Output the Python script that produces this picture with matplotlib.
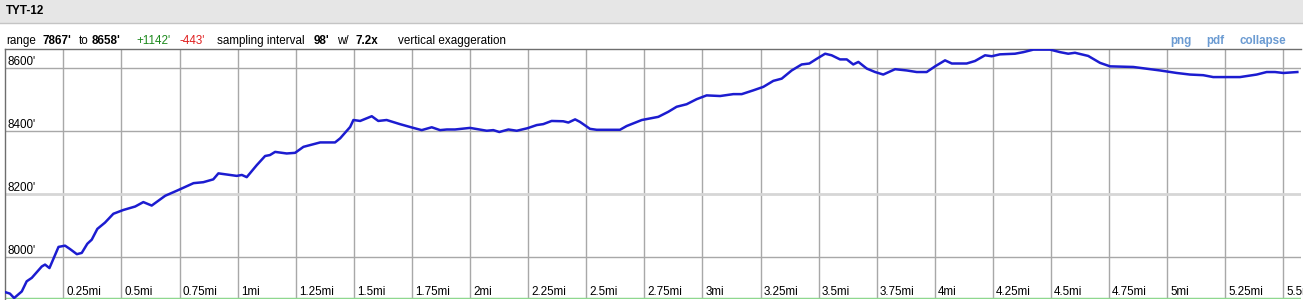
import numpy as np
import matplotlib
matplotlib.use("Agg")
import matplotlib.pyplot as plt
from matplotlib.patches import Rectangle
from matplotlib.lines import Line2D

plt.rcParams['font.family'] = ['Liberation Sans', 'DejaVu Sans']

# profile (miles, feet)
dist_mi = [0.003, 0.02, 0.038, 0.071, 0.092, 0.114, 0.157, 0.171, 0.19, 0.229,
           0.257, 0.279, 0.308, 0.329, 0.353, 0.372, 0.396, 0.429, 0.465, 0.508,
           0.559, 0.594, 0.63, 0.688, 0.738, 0.81, 0.852, 0.895, 0.917, 0.967,
           0.996, 1.018, 1.039, 1.082, 1.118, 1.139, 1.161, 1.211, 1.247, 1.283,
           1.355, 1.419, 1.441, 1.484, 1.498, 1.527, 1.577, 1.605, 1.641, 1.698,
           1.756, 1.792, 1.835, 1.871, 1.9, 1.935, 2.0, 2.072, 2.1, 2.126,
           2.165, 2.201, 2.247, 2.287, 2.315, 2.351, 2.401, 2.423, 2.452, 2.473,
           2.516, 2.545, 2.645, 2.674, 2.739, 2.81, 2.853, 2.889, 2.932, 2.975,
           3.018, 3.076, 3.133, 3.169, 3.219, 3.262, 3.305, 3.341, 3.384, 3.427,
           3.46, 3.492, 3.528, 3.556, 3.592, 3.621, 3.649, 3.671, 3.707, 3.743,
           3.778, 3.829, 3.879, 3.922, 3.965, 4.001, 4.044, 4.073, 4.137, 4.173,
           4.216, 4.245, 4.28, 4.345, 4.381, 4.424, 4.496, 4.539, 4.574, 4.603,
           4.66, 4.711, 4.754, 4.854, 4.969, 5.041, 5.098, 5.155, 5.198, 5.313,
           5.385, 5.428, 5.464, 5.5, 5.56]
elev_ft = [7888, 7884, 7870, 7891, 7923, 7934, 7970, 7976, 7965, 8032,
           8036, 8025, 8009, 8013, 8042, 8055, 8089, 8109, 8137, 8149,
           8160, 8174, 8163, 8194, 8210, 8234, 8237, 8246, 8265, 8260,
           8257, 8260, 8253, 8291, 8320, 8323, 8333, 8328, 8330, 8349,
           8363, 8363, 8376, 8412, 8434, 8431, 8446, 8431, 8434, 8421,
           8409, 8402, 8411, 8402, 8404, 8404, 8409, 8400, 8402, 8396,
           8404, 8400, 8408, 8418, 8421, 8431, 8430, 8426, 8436, 8428,
           8406, 8403, 8403, 8415, 8434, 8444, 8460, 8476, 8484, 8500,
           8512, 8510, 8516, 8516, 8528, 8539, 8558, 8565, 8591, 8610,
           8613, 8628, 8644, 8639, 8626, 8626, 8610, 8618, 8597, 8586,
           8578, 8595, 8591, 8586, 8586, 8604, 8623, 8613, 8613, 8621,
           8639, 8636, 8642, 8644, 8649, 8657, 8657, 8649, 8644, 8647,
           8637, 8615, 8604, 8602, 8591, 8583, 8578, 8576, 8570, 8570,
           8578, 8586, 8586, 8583, 8586]

x_ticks = [0.25, 0.5, 0.75, 1, 1.25, 1.5, 1.75, 2, 2.25, 2.5, 2.75, 3, 3.25,
           3.5, 3.75, 4, 4.25, 4.5, 4.75, 5, 5.25, 5.5]
x_labels = ['0.25mi', '0.5mi', '0.75mi', '1mi', '1.25mi', '1.5mi', '1.75mi',
            '2mi', '2.25mi', '2.5mi', '2.75mi', '3mi', '3.25mi', '3.5mi',
            '3.75mi', '4mi', '4.25mi', '4.5mi', '4.75mi', '5mi', '5.25mi', '5.5mi']
y_ticks = [8000, 8200, 8400, 8600]
y_labels = ["8000'", "8200'", "8400'", "8600'"]

W, H = 1303, 300
FS = 8.4
fig = plt.figure(figsize=(W / 100, H / 100), dpi=100)


def fx(px):
    return px / W


def fy(py):
    return 1 - py / H


# header band
fig.patches.append(Rectangle((0, fy(22)), 1, 22 / H, transform=fig.transFigure,
                             color='#e6e6e6', zorder=0))
fig.lines.append(Line2D([0, 1], [fy(22.5)] * 2, transform=fig.transFigure,
                        color='#c4c4c4', lw=1))
fig.text(fx(6), fy(10.5), 'TYT-12', fontsize=FS, fontweight='bold', va='center')

# summary line
ty = fy(41)
pieces = [(6, 'range', 'normal', 'black'), (42.7, "7867'", 'bold', 'black'),
          (79.3, 'to', 'normal', 'black'), (92, "8658'", 'bold', 'black'),
          (136.7, "+1142'", 'normal', '#1e8a1e'), (179, "-443'", 'normal', '#e02020'),
          (217.3, 'sampling interval', 'normal', 'black'), (314, "98'", 'bold', 'black'),
          (336.7, 'w/', 'normal', 'black'), (355.7, '7.2x', 'bold', 'black'),
          (398.3, 'vertical exaggeration', 'normal', 'black')]
for px, s, w, c in pieces:
    fig.text(fx(px), ty, s, fontsize=FS, fontweight=w, color=c, va='center')

for px, s in [(1170, 'png'), (1206.7, 'pdf'), (1239.3, 'collapse')]:
    fig.text(fx(px), ty, s, fontsize=FS, fontweight='bold', color='#6b9bd2', va='center')

# profile axes
ax = fig.add_axes([fx(5.3), fy(299), fx(1301) - fx(5.3), (299 - 49.3) / H])
ax.set_xlim(0, (1301 - 5.2) / 232.4)
ax.set_ylim(7867, 8658)

for x in x_ticks:
    ax.axvline(x, color='#a8a8a8', lw=1, zorder=1)
for y in y_ticks:
    if y == 8200:
        ax.axhline(y, color='#d6d6d6', lw=2, zorder=1)
    else:
        ax.axhline(y, color='#a8a8a8', lw=1, zorder=1)

for x, lab in zip(x_ticks, x_labels):
    ax.annotate(lab, (x, 7867), xytext=(3, 4), textcoords='offset pixels',
                fontsize=FS, va='baseline', ha='left', annotation_clip=False)
for y, lab in zip(y_ticks, y_labels):
    ax.annotate(lab, (0, y), xytext=(2, 3), textcoords='offset pixels',
                fontsize=FS, va='baseline', ha='left')

ax.plot(dist_mi, elev_ft, color='#1c1cd0', lw=1.8, zorder=3, solid_joinstyle='round')
ax.axhline(7867, color='#8fd88f', lw=2.5, zorder=2)

ax.set_xticks([])
ax.set_yticks([])
for side in ['right', 'bottom']:
    ax.spines[side].set_visible(False)
for side in ['left', 'top']:
    ax.spines[side].set_color('#6e6e6e')
    ax.spines[side].set_linewidth(1)

fig.savefig('out.png', dpi=100)
